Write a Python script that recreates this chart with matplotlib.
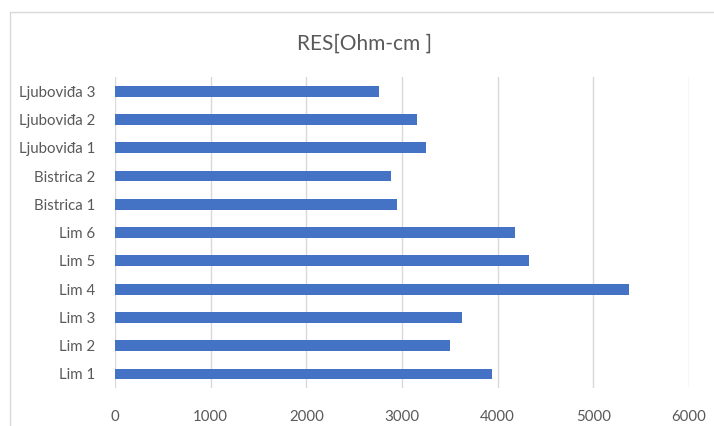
import matplotlib.pyplot as plt
from matplotlib.patches import Rectangle

# sample sites, bottom to top as drawn
sites = ["Lim 1", "Lim 2", "Lim 3", "Lim 4", "Lim 5", "Lim 6",
         "Bistrica 1", "Bistrica 2", "Ljubovida 1", "Ljubovida 2", "Ljubovida 3"]
sites = [s.replace("Ljubovida", "Ljubovi\u0111a") for s in sites]
res_values = [3942, 3503, 3627, 5372, 4323, 4180, 2950, 2887, 3250, 3156, 2765]
x_ticks = [0, 1000, 2000, 3000, 4000, 5000, 6000]

plt.rcParams["font.family"] = ["Lato", "DejaVu Sans"]

fig = plt.figure(figsize=(7.14, 4.26), dpi=100)
ax = fig.add_axes([0.161, 0.089, 0.804, 0.730])

ax.barh(range(len(sites)), res_values, height=0.38, color="#4472C4", zorder=3)
ax.set_ylim(-0.5, len(sites) - 0.5)
ax.set_xlim(0, 6000)
ax.set_xticks(x_ticks)
ax.set_xticklabels([str(t) for t in x_ticks])
ax.set_yticks(range(len(sites)))
ax.set_yticklabels(sites)

ax.grid(axis="x", color="#D9D9D9", linewidth=1, zorder=0)
for side in ["top", "right", "bottom", "left"]:
    ax.spines[side].set_visible(False)
ax.tick_params(axis="both", length=0, labelsize=10.8, labelcolor="#595959")
ax.tick_params(axis="y", pad=14)
ax.tick_params(axis="x", pad=16)

fig.text(0.51, 0.897, "RES[Ohm-cm ]", ha="center", va="center",
         fontsize=15, color="#595959")

# chart frame (right and bottom edges are cut off in the original)
fig.patches.append(Rectangle((10 / 714, -0.1), 1.2, 1 - 12 / 426 + 0.1,
                             transform=fig.transFigure, fill=False,
                             edgecolor="#D9D9D9", linewidth=1))

fig.savefig("out.png", dpi=100)
